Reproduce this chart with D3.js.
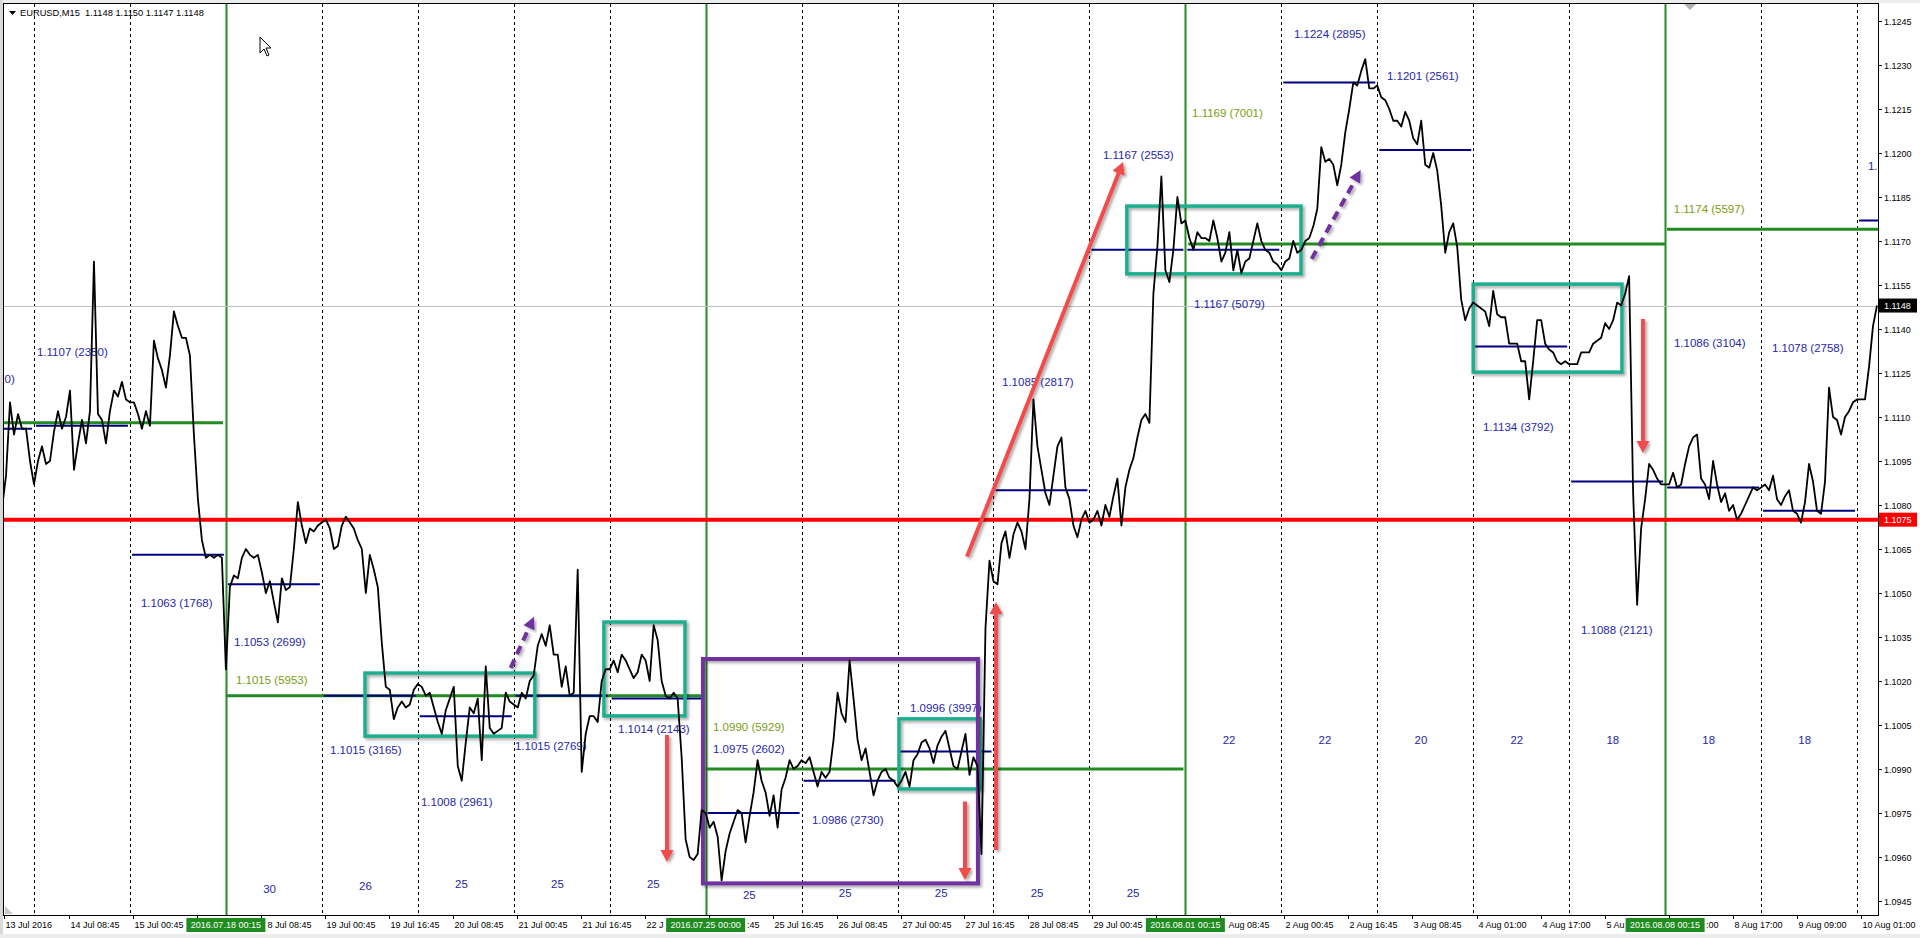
<!DOCTYPE html>
<html><head><meta charset="utf-8">
<script src="https://cdn.jsdelivr.net/npm/d3@7/dist/d3.min.js"></script>
<style>
body{margin:0;background:#fff;overflow:hidden}
svg{display:block}
text{font-family:"Liberation Sans",Arial,sans-serif;white-space:pre}
</style></head><body>
<svg id="c" width="1920" height="938"></svg>
<script>
// ---------------- DATA ----------------
const symbolTitle = "EURUSD,M15  1.1148 1.1150 1.1147 1.1148";
// trading days, index 0 = 14 Jul (13 Jul = -1)
const dayNames = ["14 Jul","15 Jul","18 Jul","19 Jul","20 Jul","21 Jul","22 Jul","25 Jul","26 Jul","27 Jul",
  "28 Jul","29 Jul","1 Aug","2 Aug","3 Aug","4 Aug","5 Aug","8 Aug","9 Aug","10 Aug"];
const weekStartDays = [2, 7, 12, 17];
const weekStartStamps = ["2016.07.18 00:15","2016.07.25 00:00","2016.08.01 00:15","2016.08.08 00:15"];

// hourly closes
const week1 = { startDay:-1, startHour:16, values:[
 1.1079,1.1090,1.1115,1.1104,1.1111,1.1106,1.1106,1.1095,
 1.1087,1.1095,1.1100,1.1094,1.1095,1.1105,1.1112,1.1106,1.1110,1.1119,1.1092,1.1101,1.1109,1.1101,1.1112,1.1163,1.1111,1.1109,1.1101,1.1112,1.1119,1.1117,1.1122,1.1116,
 1.1115,1.1115,1.1111,1.1106,1.1112,1.1107,1.1136,1.1130,1.1126,1.1120,1.1131,1.1146,1.1141,1.1137,1.1137,1.1131,1.1104,1.1082,1.1068,1.1062,1.1063,1.1062,1.1063,1.1062]};
const week2 = { startDay:2, startHour:0, values:[
 1.1024,1.1052,1.1056,1.1055,1.1062,1.1065,1.1063,1.1062,1.1063,1.1057,1.1050,1.1054,1.1047,1.1040,1.1055,1.1051,1.1052,1.1065,1.1081,1.1073,1.1067,1.1072,1.1071,1.1073,
 1.1074,1.1075,1.1072,1.1065,1.1066,1.1073,1.1076,1.1074,1.1072,1.1068,1.1065,1.1050,1.1063,1.1058,1.1052,1.1033,1.1018,1.1017,1.1007,1.1011,1.1013,1.1011,1.1012,1.1017,
 1.1019,1.1018,1.1015,1.1016,1.1011,1.1006,1.1002,1.1010,1.1014,1.1018,1.0991,1.0986,1.0999,1.1011,1.1009,1.1014,1.0993,1.1025,1.1004,1.1002,1.1003,1.1004,1.1016,1.1013,
 1.1012,1.1011,1.1016,1.1014,1.1020,1.1022,1.1032,1.1036,1.1032,1.1039,1.1029,1.1029,1.1018,1.1025,1.1015,1.1016,1.1058,1.0989,1.1002,1.1008,1.1008,1.1006,1.1020,1.1024,
 1.1024,1.1027,1.1023,1.1029,1.1027,1.1024,1.1021,1.1023,1.1029,1.1027,1.1020,1.1039,1.1034,1.1020,1.1015,1.1014,1.1016,1.1014,1.0994,1.0966,1.0960,1.0959,1.0961,1.0976]};
const week3 = { startDay:7, startHour:0, values:[
 1.0975,1.0970,1.0972,1.0967,1.0952,1.0962,1.0968,1.0972,1.0976,1.0975,1.0965,1.0974,1.0982,1.0993,1.0986,1.0982,1.0974,1.0981,1.0970,1.0983,1.0987,1.0993,1.0990,1.0991,
 1.0993,1.0992,1.0994,1.0989,1.0984,1.0989,1.0987,1.0989,1.1000,1.1016,1.1009,1.1006,1.1027,1.1014,1.1000,1.0993,1.0997,1.0989,1.0981,1.0986,1.0989,1.0990,1.0987,1.0986,
 1.0984,1.0986,1.0989,1.0984,1.0993,1.0995,1.0999,1.1000,1.0997,1.0992,1.0998,1.1001,1.1003,1.0997,1.0991,1.0990,1.0996,1.1002,1.0988,1.0994,1.0991,1.0961,1.1038,1.1061,
 1.1054,1.1053,1.1067,1.1071,1.1062,1.1070,1.1074,1.1071,1.1065,1.1082,1.1116,1.1100,1.1092,1.1084,1.1080,1.1090,1.1100,1.1103,1.1086,1.1082,1.1073,1.1069,1.1075,1.1078,
 1.1074,1.1075,1.1078,1.1073,1.1080,1.1076,1.1083,1.1089,1.1073,1.1086,1.1092,1.1096,1.1103,1.1109,1.1111,1.1108,1.1152,1.1168,1.1192,1.1160,1.1156,1.1167,1.1185,1.1176]};
const week4 = { startDay:12, startHour:0, values:[
 1.1177,1.1171,1.1167,1.1173,1.1171,1.1171,1.1170,1.1177,1.1171,1.1163,1.1166,1.1173,1.1160,1.1167,1.1159,1.1163,1.1164,1.1170,1.1176,1.1170,1.1167,1.1166,1.1163,1.1162,
 1.1160,1.1163,1.1164,1.1170,1.1166,1.1167,1.1170,1.1171,1.1175,1.1181,1.1202,1.1197,1.1198,1.1196,1.1189,1.1196,1.1207,1.1215,1.1224,1.1223,1.1228,1.1232,1.1222,1.1222,
 1.1223,1.1219,1.1218,1.1215,1.1211,1.1211,1.1209,1.1214,1.1211,1.1205,1.1203,1.1211,1.1196,1.1195,1.1200,1.1194,1.1182,1.1166,1.1173,1.1176,1.1168,1.1150,1.1143,1.1147,
 1.1149,1.1148,1.1147,1.1146,1.1141,1.1153,1.1145,1.1144,1.1144,1.1135,1.1135,1.1135,1.1129,1.1129,1.1116,1.1129,1.1143,1.1143,1.1135,1.1133,1.1132,1.1129,1.1128,1.1129,
 1.1128,1.1128,1.1128,1.1132,1.1132,1.1132,1.1135,1.1136,1.1137,1.1142,1.1140,1.1143,1.1149,1.1148,1.1152,1.1158,1.1084,1.1046,1.1072,1.1082,1.1094,1.1092,1.1089,1.1087]};
const week5 = { startDay:17, startHour:0, values:[
 1.1087,1.1087,1.1091,1.1086,1.1087,1.1094,1.1100,1.1103,1.1104,1.1089,1.1087,1.1082,1.1095,1.1087,1.1081,1.1084,1.1078,1.1080,1.1075,1.1077,1.1080,1.1083,1.1086,1.1085,
 1.1086,1.1087,1.1085,1.1090,1.1082,1.1080,1.1083,1.1085,1.1078,1.1077,1.1074,1.1081,1.1094,1.1088,1.1078,1.1077,1.1088,1.1120,1.1110,1.1109,1.1104,1.1110,1.1112,1.1115,
 1.1116,1.1116,1.1116,1.1127,1.1141,1.1148]};

// daily value-area levels
const dailyDays   = [-1,0,1,2,3,4,5,6,7,8,9,10,11,12,13,14,15,16,17,18,19];
const dailyPrice  = [1.1106,1.1107,1.1063,1.1053,1.1015,1.1008,1.1015,1.1014,1.0975,1.0986,1.0996,1.1085,1.1167,1.1167,1.1224,1.1201,1.1134,1.1088,1.1086,1.1078,1.1177];
const dailyVolume = [1780,2350,1768,2699,3165,2961,2769,2143,2602,2730,3997,2817,2553,5079,2895,2561,3792,2121,3104,2758,1460];
const dailyLabelT = [-0.938,0.031,1.115,2.084,3.085,4.033,5.013,6.087,7.077,8.108,9.13,10.089,11.141,12.09,13.132,14.101,15.101,16.123,17.092,18.114,19.114];
const dailyLabelP = [1.1123,1.11323,1.10466,1.10334,1.09966,1.09787,1.09978,1.10036,1.09968,1.09726,1.10108,1.1122,1.11992,1.11486,1.12405,1.12263,1.11066,1.10374,1.11352,1.11336,1.11957];

// weekly levels
const weekFrom   = [-1.4, 2, 7, 12.03, 17.02];
const weekTo     = [1.97, 6.97, 11.98, 17, 19.4];
const weekPrice  = [1.1108, 1.1015, 1.0990, 1.1169, 1.1174];
const weekVolume = [null, 5953, 5929, 7001, 5597];
const weekLabelT = [null, 2.105, 7.077, 12.07, 17.09];
const weekLabelP = [null, 1.10204, 1.10043, 1.12136, 1.11809];

// daily counts
const countDays   = [2,3,4,5,6,7,8,9,10,11,12,13,14,15,16,17,18];
const countValues = [30,26,25,25,25,25,25,25,25,25,22,22,20,22,18,18,18];

// levels
const supportLevel = 1.1075;
const lastPrice = 1.1148;
const priceTicks = d3.range(0, 21).map(i => +(1.0945 + i * 0.0015).toFixed(4));

// time axis labels [day, hour, text]
const timeTicks = [
 [-1,16.5,"13 Jul 2016"],[0,8.75,"14 Jul 08:45"],[1,0.75,"15 Jul 00:45"],[1,16.75,"15 Jul 16:45"],
 [2,8.75,"18 Jul 08:45"],[3,0.75,"19 Jul 00:45"],[3,16.75,"19 Jul 16:45"],[4,8.75,"20 Jul 08:45"],
 [5,0.75,"21 Jul 00:45"],[5,16.75,"21 Jul 16:45"],[6,8.75,"22 Jul 08:45"],[7,0.75,"25 Jul 00:45"],
 [7,16.75,"25 Jul 16:45"],[8,8.75,"26 Jul 08:45"],[9,0.75,"27 Jul 00:45"],[9,16.75,"27 Jul 16:45"],
 [10,8.75,"28 Jul 08:45"],[11,0.75,"29 Jul 00:45"],[11,16.75,"29 Jul 16:45"],[12,8.75,"1 Aug 08:45"],
 [13,0.75,"2 Aug 00:45"],[13,16.75,"2 Aug 16:45"],[14,8.75,"3 Aug 08:45"],[15,1,"4 Aug 01:00"],
 [15,17,"4 Aug 17:00"],[16,9,"5 Aug 09:00"],[17,1,"8 Aug 01:00"],[17,17,"8 Aug 17:00"],
 [18,9,"9 Aug 09:00"],[19,1,"10 Aug 01:00"]];

// drawn annotations (data coordinates: day index, price)
const tealBoxes = [[3.45,5.22,1.10227,1.10012],[5.94,6.785,1.10401,1.10081],[9.015,9.86,1.10071,1.09832],
                   [11.39,13.205,1.11819,1.11588],[15.0,16.55,1.11553,1.11253]];
const purpleBox = [6.972,9.838,1.10275,1.0951];
const redArrows = [[6.597,1.10016,6.597,1.09583],[9.724,1.10624,11.35,1.11969],[9.703,1.09789,9.703,1.09522],
                   [10.026,1.09624,10.026,1.10469],[16.769,1.11434,16.769,1.10977]];
const purpleArrows = [[4.968,1.10245,5.211,1.10419],[13.316,1.11639,13.827,1.11942]];

// ---------------- DRAW ----------------
const L = 4, R = 1878, T = 4, B = 915;
const x = d3.scaleLinear().domain([0, 19]).range([34, 1857]);
const y = d3.scaleLinear().domain([1.0945, 1.1245]).range([901, 21]);
const svg = d3.select("#c");

const BLUE_TXT = "#2727a8", NAVY = "#000080", GREEN = "#228b22", OLIVE = "#7c9c10";
const TEAL = "#1fae8e", PURPLE = "#7030a0", SALMON = "#f24c4c";
const AX = 9;

// keep only the characters of a text that fall outside the blocked x-intervals
function fitText(sel, x0, blocked) {
  const node = sel.node(), txt = node.textContent;
  const n = txt.length, keep = [];
  for (let i = 0; i < n; i++) {
    const cs = x0 + (i ? node.getSubStringLength(0, i) : 0);
    const ce = x0 + node.getSubStringLength(0, i + 1);
    keep.push(!blocked.some(([a, b]) => ce > a && cs < b));
  }
  let i0 = keep.indexOf(true);
  if (i0 < 0) { sel.remove(); return; }
  let i1 = i0; while (i1 < n && keep[i1]) i1++;
  const shift = i0 ? node.getSubStringLength(0, i0) : 0;
  sel.attr("x", x0 + shift).text(txt.slice(i0, i1));
}

const defs = svg.append("defs");
defs.append("clipPath").attr("id","plot").append("rect").attr("x",L).attr("y",T).attr("width",R-L).attr("height",B-T);
const sh = defs.append("filter").attr("id","shadow").attr("x","-5%").attr("y","-5%").attr("width","115%").attr("height","120%");
sh.append("feDropShadow").attr("dx",2).attr("dy",2).attr("stdDeviation",1.5).attr("flood-color","#000").attr("flood-opacity",0.35);

// window chrome
svg.append("rect").attr("x",0).attr("y",0).attr("width",1920).attr("height",3).attr("fill","#ececec");
svg.append("rect").attr("x",0).attr("y",0).attr("width",3).attr("height",938).attr("fill","#d9d9d9");
svg.append("rect").attr("x",0).attr("y",934).attr("width",1920).attr("height",4).attr("fill","#ececec");

const g = svg.append("g").attr("clip-path","url(#plot)");
const gt = svg.append("g"); // plot texts (trimmed to the plot)
const plotEdges = [[-1e4, L], [R, 1e4]];

// day separators
d3.range(0, 20).forEach(i => {
  const isMon = weekStartDays.includes(i);
  g.append("line").attr("x1",Math.round(x(i))+0.5).attr("x2",Math.round(x(i))+0.5).attr("y1",T).attr("y2",B)
    .attr("stroke", isMon ? GREEN : "#000").attr("stroke-width", isMon ? 2 : 1)
    .attr("stroke-dasharray", isMon ? null : "3,3");
});

// last price line
g.append("line").attr("x1",L).attr("x2",R).attr("y1",Math.round(y(lastPrice))+0.5).attr("y2",Math.round(y(lastPrice))+0.5)
  .attr("stroke","#c0c0c0").attr("stroke-width",1);

// weekly levels
weekPrice.forEach((p,i) => {
  g.append("line").attr("x1",x(weekFrom[i])).attr("x2",x(weekTo[i])).attr("y1",y(p)).attr("y2",y(p))
    .attr("stroke",GREEN).attr("stroke-width",3);
  if (weekVolume[i] != null) {
    const t = gt.append("text").attr("x",x(weekLabelT[i])).attr("y",y(weekLabelP[i])).attr("dominant-baseline","central")
      .attr("font-size",11.5).attr("fill",OLIVE).text(`${p.toFixed(4)} (${weekVolume[i]})`);
    fitText(t, x(weekLabelT[i]), plotEdges);
  }
});

// daily levels
dailyDays.forEach((d,i) => {
  g.append("line").attr("x1",x(d)+2).attr("x2",x(d+1)-2).attr("y1",y(dailyPrice[i])).attr("y2",y(dailyPrice[i]))
    .attr("stroke",NAVY).attr("stroke-width",2);
  const t = gt.append("text").attr("x",x(dailyLabelT[i])).attr("y",y(dailyLabelP[i])).attr("dominant-baseline","central")
    .attr("font-size",11.5).attr("fill",BLUE_TXT).text(`${dailyPrice[i].toFixed(4)} (${dailyVolume[i]})`);
  fitText(t, x(dailyLabelT[i]), plotEdges);
});

// daily counts
const countY = [889,886,884,884,884,895,893,893,893,893,740,740,740,740,740,740,740];
countDays.forEach((d,i) => {
  gt.append("text").attr("x",x(d+0.455)).attr("y",countY[i]).attr("text-anchor","middle").attr("dominant-baseline","central")
    .attr("font-size",11.5).attr("fill",BLUE_TXT).text(countValues[i]);
});

// support level
g.append("line").attr("x1",L).attr("x2",R).attr("y1",y(supportLevel)).attr("y2",y(supportLevel))
  .attr("stroke","#ff0000").attr("stroke-width",4);

// boxes
const gb = svg.append("g").attr("clip-path","url(#plot)");
tealBoxes.forEach(b => {
  gb.append("rect").attr("x",x(b[0])).attr("y",y(b[2])).attr("width",x(b[1])-x(b[0])).attr("height",y(b[3])-y(b[2]))
    .attr("fill","none").attr("stroke",TEAL).attr("stroke-width",3.5).attr("filter","url(#shadow)");
});
gb.append("rect").attr("x",x(purpleBox[0])).attr("y",y(purpleBox[2])).attr("width",x(purpleBox[1])-x(purpleBox[0]))
  .attr("height",y(purpleBox[3])-y(purpleBox[2])).attr("fill","none").attr("stroke",PURPLE).attr("stroke-width",4)
  .attr("filter","url(#shadow)");

// price line
const series = [week1,week2,week3,week4,week5].flatMap(w =>
  w.values.map((p,i) => ({t: w.startDay + (w.startHour + i)/24, p})));
gb.append("path").datum(series).attr("fill","none").attr("stroke","#000").attr("stroke-width",1.8)
  .attr("stroke-linejoin","round")
  .attr("d", d3.line().x(d => x(d.t)).y(d => y(d.p)));

// arrows
function arrow(a, color, w, headL, headW, dash) {
  const x1 = x(a[0]), y1 = y(a[1]), x2 = x(a[2]), y2 = y(a[3]);
  const dx = x2-x1, dy = y2-y1, len = Math.hypot(dx,dy), ux = dx/len, uy = dy/len;
  const bx = x2 - ux*headL, by = y2 - uy*headL;
  const grp = gb.append("g").attr("filter","url(#shadow)");
  grp.append("line").attr("x1",x1).attr("y1",y1).attr("x2",bx+ux*2).attr("y2",by+uy*2)
    .attr("stroke",color).attr("stroke-width",w).attr("stroke-dasharray",dash);
  grp.append("path").attr("fill",color)
    .attr("d",`M${x2},${y2}L${bx - uy*headW/2},${by + ux*headW/2}L${bx + uy*headW/2},${by - ux*headW/2}Z`);
}
redArrows.forEach(a => arrow(a, SALMON, 4, 12, 13, null));
purpleArrows.forEach(a => arrow(a, PURPLE, 4, 12, 12, "9,6"));

// plot border
svg.append("rect").attr("x",L-0.5).attr("y",T-0.5).attr("width",R-L+1).attr("height",B-T+1)
  .attr("fill","none").attr("stroke","#000").attr("stroke-width",1);

// chart shift marker
svg.append("path").attr("d","M1684,4L1696,4L1690,10Z").attr("fill","#b0b0b0");
svg.append("path").attr("d","M5,906L5,914L13,914Z").attr("fill","#c8c8c8");

// header
svg.append("path").attr("d","M9,11L16,11L12.5,15Z").attr("fill","#000");
svg.append("text").attr("x",20).attr("y",13).attr("dominant-baseline","central").attr("font-size",9.3).attr("fill","#000").text(symbolTitle);

// right axis
priceTicks.forEach(p => {
  const yy = Math.round(y(p))+0.5;
  svg.append("line").attr("x1",R).attr("x2",R+4).attr("y1",yy).attr("y2",yy).attr("stroke","#000");
  svg.append("text").attr("x",R+6).attr("y",yy).attr("dominant-baseline","central").attr("font-size",AX).attr("fill","#000")
    .text(p.toFixed(4));
});
[[lastPrice,"#000"],[supportLevel,"#ff0000"]].forEach(([p,c]) => {
  const yy = y(p);
  svg.append("rect").attr("x",R+1).attr("y",yy-7).attr("width",38).attr("height",14).attr("fill",c);
  svg.append("text").attr("x",R+6).attr("y",yy).attr("dominant-baseline","central").attr("font-size",AX).attr("fill","#fff")
    .text(p.toFixed(4));
});

// bottom axis with highlighted week starts
const stampBoxes = weekStartDays.map(d => [x(d)-39.5, x(d)+39.5]);
timeTicks.forEach(([d,h,txt]) => {
  const xx = Math.round(x(d + h/24))+0.5;
  svg.append("line").attr("x1",xx).attr("x2",xx).attr("y1",B).attr("y2",B+4).attr("stroke","#000");
  const t = svg.append("text").attr("x",xx+1).attr("y",925).attr("dominant-baseline","central").attr("font-size",AX).attr("fill","#000").text(txt);
  fitText(t, xx+1, stampBoxes);
});
weekStartDays.forEach((d,i) => {
  const xx = x(d);
  svg.append("rect").attr("x",xx-39.5).attr("y",918).attr("width",79).attr("height",14).attr("fill","#1f8c1f");
  svg.append("text").attr("x",xx).attr("y",925).attr("text-anchor","middle").attr("dominant-baseline","central")
    .attr("font-size",AX).attr("fill","#fff").text(weekStartStamps[i]);
});

// mouse cursor
svg.append("path").attr("d","M260,37L260,53L264,49L267,56L269,55L266,48L271,48Z")
  .attr("fill","#fff").attr("stroke","#000").attr("stroke-width",1);
</script>
</body></html>
